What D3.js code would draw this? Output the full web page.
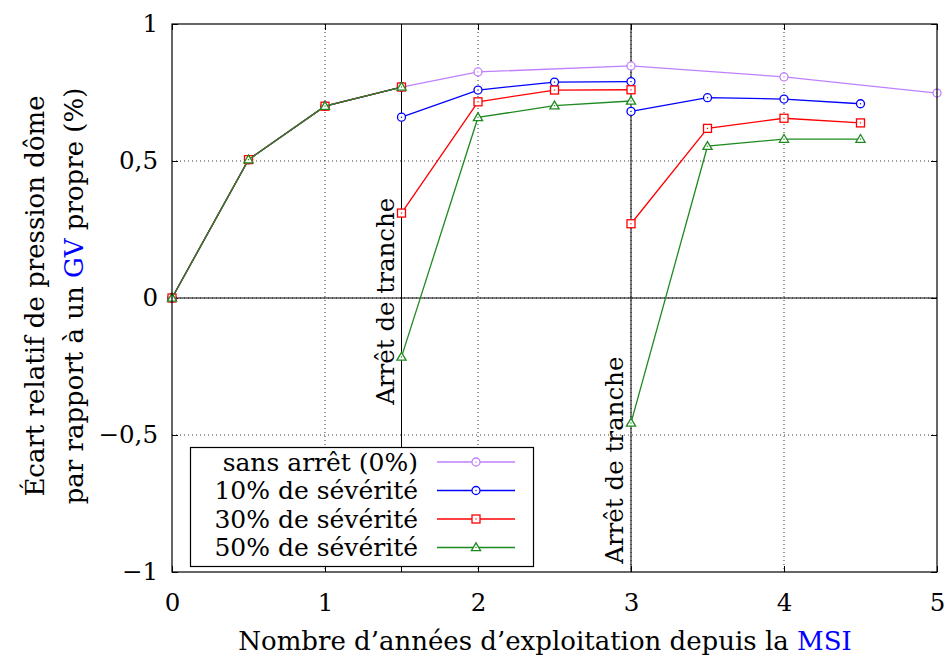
<!DOCTYPE html>
<html><head><meta charset="utf-8">
<script src="https://cdn.jsdelivr.net/npm/d3@7"></script>
<style>
html,body{margin:0;padding:0;background:#fff;}
svg text{font-family:"DejaVu Serif",serif;fill:#000;}
</style></head>
<body>
<svg id="chart" width="944" height="660"></svg>
<script>
// ---- data ----
const yearsRef = [0, 0.5, 1, 1.5, 2, 3, 4, 5];
const sansArret = [0, 0.505, 0.70, 0.77, 0.825, 0.847, 0.807, 0.748];
const yearsSev = [0, 0.5, 1, 1.5, 1.5, 2, 2.5, 3, 3, 3.5, 4, 4.5];
const sev10 = [0, 0.505, 0.70, 0.77, 0.66, 0.759, 0.788, 0.79, 0.681, 0.731, 0.726, 0.709];
const sev30 = [0, 0.505, 0.70, 0.77, 0.31, 0.716, 0.759, 0.76, 0.271, 0.619, 0.656, 0.639];
const sev50 = [0, 0.505, 0.70, 0.77, -0.215, 0.659, 0.702, 0.719, -0.456, 0.554, 0.580, 0.580];
const seriesNames = ["sans arrêt (0%)", "10% de sévérité", "30% de sévérité", "50% de sévérité"];
const xTicks = [0, 1, 2, 3, 4, 5];
const yTicks = [-1, -0.5, 0, 0.5, 1];
const arretYears = [1.5, 3];
const arretLabel = "Arrêt de tranche";

// ---- layout ----
const svg = d3.select("#chart");
const L = 172, R = 937, T = 24, B = 572;
const x = d3.scaleLinear().domain([0, 5]).range([L, R]);
const y = d3.scaleLinear().domain([-1, 1]).range([B, T]);
const fmt = v => (v < 0 ? "\u2212" : "") + String(Math.abs(v)).replace(".", ",");

const series = [
  {name: seriesNames[0], xs: yearsRef, ys: sansArret, color: "#bf80ff", mark: "circle"},
  {name: seriesNames[1], xs: yearsSev, ys: sev10, color: "#0000ff", mark: "circle"},
  {name: seriesNames[2], xs: yearsSev, ys: sev30, color: "#ff0000", mark: "square"},
  {name: seriesNames[3], xs: yearsSev, ys: sev50, color: "#1f8a1f", mark: "triangle"}
];

// grid (dotted)
const grid = svg.append("g");
xTicks.filter(v => v > 0 && v < 5).forEach(v => {
  grid.append("line").attr("x1", x(v)).attr("x2", x(v)).attr("y1", T).attr("y2", B)
    .attr("stroke", "#000").attr("stroke-width", 0.8).attr("stroke-dasharray", "1,3");
});
yTicks.filter(v => v > -1 && v < 1).forEach(v => {
  grid.append("line").attr("x1", L).attr("x2", R).attr("y1", y(v)).attr("y2", y(v))
    .attr("stroke", "#000").attr("stroke-width", 0.8).attr("stroke-dasharray", "1,3");
});

// axes with inward ticks
const axB = d3.axisBottom(x).tickValues(xTicks).tickSize(-6).tickPadding(22).tickFormat(d => d);
const axT = d3.axisTop(x).tickValues(xTicks).tickSize(-6).tickFormat("");
const axLft = d3.axisLeft(y).tickValues(yTicks).tickSize(-6).tickPadding(14).tickFormat(fmt);
const axRgt = d3.axisRight(y).tickValues(yTicks).tickSize(-6).tickFormat("");
function styleAxis(g){
  g.select(".domain").remove();
  g.selectAll(".tick line").attr("stroke", "#000").attr("stroke-width", 1);
  g.selectAll("text").attr("font-size", 24.5).attr("font-family", "DejaVu Serif").attr("fill", "#000");
}
svg.append("g").attr("transform", `translate(0,${B})`).call(axB).call(styleAxis);
svg.append("g").attr("transform", `translate(0,${T})`).call(axT).call(styleAxis);
svg.append("g").attr("transform", `translate(${L},0)`).call(axLft).call(styleAxis);
svg.append("g").attr("transform", `translate(${R},0)`).call(axRgt).call(styleAxis);

// zero line & arrêt lines
svg.append("line").attr("x1", L).attr("x2", R).attr("y1", y(0)).attr("y2", y(0))
  .attr("stroke", "#000").attr("stroke-width", 1);
arretYears.forEach(v => {
  svg.append("line").attr("x1", x(v)).attr("x2", x(v)).attr("y1", T).attr("y2", B)
    .attr("stroke", "#000").attr("stroke-width", 1);
});
// annotations
svg.append("text").attr("font-size", 24.5)
  .attr("transform", `translate(${x(1.5) - 8},${y(-0.39)}) rotate(-90)`)
  .text(arretLabel);
svg.append("text").attr("font-size", 24.5)
  .attr("transform", `translate(${x(3) - 8},${y(-0.97)}) rotate(-90)`)
  .text(arretLabel);

// markers
function drawMark(g, mk, cx, cy, color){
  if (mk === "circle") {
    g.append("circle").attr("cx", cx).attr("cy", cy).attr("r", 4)
      .attr("fill", "#fff").attr("stroke", color).attr("stroke-width", 1.3);
  } else if (mk === "square") {
    g.append("rect").attr("x", cx - 4).attr("y", cy - 4).attr("width", 8).attr("height", 8)
      .attr("fill", "#fff").attr("stroke", color).attr("stroke-width", 1.3);
  } else {
    g.append("path").attr("d", `M${cx},${cy - 4.6}L${cx + 4.6},${cy + 3.2}L${cx - 4.6},${cy + 3.2}Z`)
      .attr("fill", "#fff").attr("stroke", color).attr("stroke-width", 1.3);
  }
  g.append("rect").attr("x", cx - 0.6).attr("y", cy - 0.6).attr("width", 1.2).attr("height", 1.2).attr("fill", color);
}

const line = d3.line().x(d => x(d[0])).y(d => y(d[1]));
series.forEach(s => {
  const pts = s.xs.map((v, i) => [v, s.ys[i]]);
  // split into runs: a repeated year marks the restart after an arrêt
  const runs = [[]];
  pts.forEach((p, i) => {
    if (i > 0 && p[0] === pts[i - 1][0]) runs.push([]);
    runs[runs.length - 1].push(p);
  });
  const g = svg.append("g");
  runs.forEach(r => g.append("path").attr("d", line(r)).attr("fill", "none")
    .attr("stroke", s.color).attr("stroke-width", 1.3));
  pts.forEach(p => drawMark(g, s.mark, x(p[0]), y(p[1]), s.color));
});

// frame
svg.append("rect").attr("x", L).attr("y", T).attr("width", R - L).attr("height", B - T)
  .attr("fill", "none").attr("stroke", "#000").attr("stroke-width", 1.2);

// legend
const lg = svg.append("g");
lg.append("rect").attr("x", 190.5).attr("y", 447.5).attr("width", 343).attr("height", 119)
  .attr("fill", "#fff").attr("stroke", "#000").attr("stroke-width", 1.2);
series.forEach((s, i) => {
  const cy = 462 + i * 28.5;
  lg.append("text").attr("x", 418).attr("y", cy).attr("dy", "0.35em").attr("text-anchor", "end")
    .attr("font-size", 25).text(s.name);
  lg.append("line").attr("x1", 437).attr("x2", 515).attr("y1", cy).attr("y2", cy)
    .attr("stroke", s.color).attr("stroke-width", 1.3);
  drawMark(lg, s.mark, 476, cy, s.color);
});

// axis titles
const xt = svg.append("text").attr("x", 545).attr("y", 650).attr("text-anchor", "middle").attr("font-size", 26);
xt.append("tspan").text("Nombre d\u2019années d\u2019exploitation depuis la ");
xt.append("tspan").style("fill", "#0000ff").text("MSI");

const yt = svg.append("text").attr("transform", `translate(44,${y(0) - 2}) rotate(-90)`).attr("text-anchor", "middle").attr("font-size", 26);
yt.append("tspan").text("Écart relatif de pression dôme");
const yt2 = svg.append("text").attr("transform", `translate(83,${y(0) - 2}) rotate(-90)`).attr("text-anchor", "middle").attr("font-size", 26);
yt2.append("tspan").text("par rapport à un ");
yt2.append("tspan").style("fill", "#0000ff").text("GV");
yt2.append("tspan").text(" propre (%)");
</script>
</body></html>
